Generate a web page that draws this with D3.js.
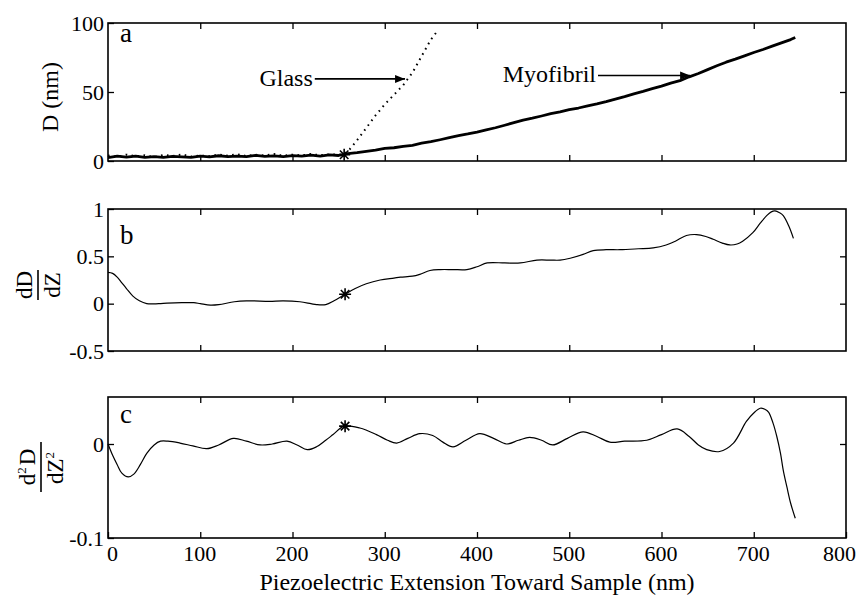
<!DOCTYPE html>
<html lang="en">
<head>
<meta charset="utf-8">
<title>afm derivative</title>
<script src="https://cdn.jsdelivr.net/npm/d3@7"></script>
<style>
body { margin:0; background:#fff; }
text { font-family:"Liberation Serif","Times New Roman",serif; fill:#000; }
.tick line { stroke:#000; stroke-width:1.3; }
</style>
</head>
<body>
<script>
// ---- data ----
var xTicks = [0,100,200,300,400,500,600,700,800];

// panel a : D (nm)
var myofibril = [[0,2.5],[10,3.5],[20,2.8],[30,3.6],[40,2.6],[50,3.2],[60,2.7],[70,3.4],[80,3.0],[90,2.6],
  [100,3.5],[110,3.0],[120,3.8],[130,3.1],[140,3.6],[150,3.2],[160,4.0],[170,3.3],[180,3.7],[190,3.2],
  [200,3.9],[210,3.5],[220,4.2],[230,3.6],[240,4.4],[250,4.0],[260,5.4],[270,6.0],[280,6.9],[290,7.8],
  [300,9.1],[310,9.6],[320,10.6],[330,11.4],[340,12.9],[350,14.0],[360,15.4],[370,16.9],[380,18.4],[390,19.6],
  [400,21.0],[410,22.6],[420,24.1],[430,25.9],[440,27.8],[450,29.6],[460,31.0],[470,32.6],[480,34.3],[490,35.6],
  [500,37.2],[510,38.4],[520,40.0],[530,41.4],[540,43.0],[550,44.8],[560,46.6],[570,48.6],[580,50.4],[590,52.4],
  [600,54.2],[610,56.4],[620,58.2],[630,61.0],[640,63.4],[650,66.2],[660,69.0],[670,71.6],[680,73.8],[690,76.2],
  [700,78.6],[710,80.8],[720,83.2],[730,85.6],[740,88.0],[745,89.5]];
var glass = [[0,4.0],[10,3.0],[20,4.6],[30,3.4],[40,4.2],[50,2.8],[60,4.4],[70,3.6],[80,4.8],[90,3.2],
  [100,4.0],[110,3.5],[120,4.6],[130,3.8],[140,4.9],[150,3.6],[160,4.5],[170,4.0],[180,5.0],[190,3.8],
  [200,4.6],[210,4.1],[220,5.0],[230,4.2],[240,4.8],[250,4.5],[256,5.0],[262,8.5],[270,15],[280,24],
  [290,33],[300,41],[310,48],[320,55],[330,64],[340,76],[350,88],[358,95]];

// panel b : dD/dZ
var slope = [[0,0.33],[5,0.32],[10,0.28],[15,0.22],[20,0.16],[27,0.08],[34,0.03],[42,0.0],[55,0.0],[64,0.005],
  [80,0.01],[93,0.01],[100,0.0],[111,-0.015],[120,-0.01],[137,0.02],[150,0.03],[158,0.03],[175,0.025],[190,0.03],
  [208,0.02],[220,0.0],[226,-0.01],[236,-0.01],[245,0.03],[257,0.1],[268,0.16],[280,0.21],[295,0.25],[310,0.27],
  [317,0.28],[330,0.29],[338,0.31],[349,0.35],[360,0.36],[374,0.36],[389,0.36],[400,0.39],[411,0.43],[430,0.43],
  [447,0.43],[465,0.46],[480,0.46],[490,0.46],[501,0.48],[515,0.52],[526,0.56],[540,0.57],[555,0.57],[575,0.58],
  [591,0.59],[605,0.62],[615,0.66],[627,0.72],[638,0.73],[648,0.71],[656,0.68],[666,0.64],[674,0.62],[682,0.63],
  [688,0.66],[699,0.75],[707,0.85],[714,0.93],[719,0.97],[723,0.98],[728,0.96],[732,0.93],[738,0.82],[743,0.69]];

// panel c : d2D/dZ2
var curv = [[0,0.0],[5,-0.012],[10,-0.022],[15,-0.031],[22,-0.035],[28,-0.032],[35,-0.022],[42,-0.01],[50,-0.001],[57,0.003],
  [65,0.003],[78,0.001],[92,-0.002],[107,-0.005],[120,-0.001],[136,0.006],[150,0.003],[165,-0.001],[178,0.0],[194,0.003],
  [205,-0.001],[216,-0.006],[226,-0.003],[236,0.004],[244,0.01],[256,0.019],[273,0.017],[291,0.01],[303,0.004],[313,0.001],
  [325,0.006],[338,0.011],[352,0.009],[363,0.002],[374,-0.003],[388,0.004],[403,0.011],[418,0.006],[432,0.0],[445,0.004],
  [457,0.007],[470,0.004],[482,-0.001],[498,0.006],[515,0.013],[530,0.008],[544,0.002],[560,0.003],[584,0.004],[600,0.01],
  [617,0.016],[630,0.008],[640,-0.001],[649,-0.006],[663,-0.008],[678,0.001],[692,0.024],[700,0.033],[707,0.038],[712,0.037],
  [716,0.034],[721,0.022],[725,0.008],[729,-0.01],[732,-0.028],[736,-0.046],[740,-0.063],[745,-0.079]];

var stars = { a:[256,4.5], b:[257,0.1], c:[257,0.019] };
var notes = [ {text:"Glass", tx:222, tip:[322,59.5]}, {text:"Myofibril", tx:529, tip:[631,62]} ];

// ---- layout ----
var W = 861, H = 598;
var svg = d3.select("body").append("svg").attr("width",W).attr("height",H);

var x = d3.scaleLinear().domain([0,800]).range([108,846]);

var panels = [
  {id:"a", dom:[0,100], rng:[161,23], ticks:[0,50,100], inner:[50], letterY:42, data:null},
  {id:"b", dom:[-0.5,1], rng:[351,209], ticks:[-0.5,0,0.5,1], inner:[0,0.5], letterY:244, data:slope},
  {id:"c", dom:[-0.1,0.05], rng:[538,397], ticks:[-0.1,0], inner:[0], letterY:423, data:curv}
];

svg.append("defs").append("marker")
  .attr("id","arr").attr("viewBox","0 0 10 10").attr("refX",10).attr("refY",5)
  .attr("markerWidth",12).attr("markerHeight",10).attr("markerUnits","userSpaceOnUse")
  .attr("orient","auto")
  .append("path").attr("d","M0,1 L10,5 L0,9 Z").attr("fill","#000");

function asterisk(g, cx, cy, r){
  var p = "";
  for (var k=0;k<4;k++){
    var a = k*Math.PI/4;
    p += "M"+(cx-r*Math.cos(a))+","+(cy-r*Math.sin(a))+"L"+(cx+r*Math.cos(a))+","+(cy+r*Math.sin(a));
  }
  g.append("path").attr("d",p).attr("stroke","#000").attr("stroke-width",1.6);
}

function fmt(d){ return String(d); }

panels.forEach(function(p){
  var y = d3.scaleLinear().domain(p.dom).range(p.rng);
  var g = svg.append("g");

  // inward ticks on all sides
  var bottom = g.append("g").attr("transform","translate(0,"+p.rng[0]+")")
    .call(d3.axisBottom(x).tickValues(p.id=="c" ? xTicks : xTicks.slice(1,-1)).tickSize(-6).tickPadding(12)
      .tickFormat(p.id=="c" ? fmt : ""));
  g.append("g").attr("transform","translate(0,"+p.rng[1]+")")
    .call(d3.axisTop(x).tickValues(xTicks.slice(1,-1)).tickSize(-6).tickFormat(""));
  var left = g.append("g").attr("transform","translate("+x.range()[0]+",0)")
    .call(d3.axisLeft(y).tickValues(p.ticks).tickSize(-6).tickPadding(4).tickFormat(fmt));
  g.append("g").attr("transform","translate("+x.range()[1]+",0)")
    .call(d3.axisRight(y).tickValues(p.inner).tickSize(-6).tickFormat(""));
  g.selectAll(".domain").remove();
  g.selectAll(".tick text").attr("font-size",22).attr("fill","#000")
    .style("font-family",'"Liberation Serif","Times New Roman",serif');
  bottom.selectAll(".tick text").attr("dy","0.5em")
    .attr("dx", function(d){ return d==0 ? 4 : (d==800 ? -7 : -1); });

  g.append("rect").attr("x",x.range()[0]).attr("y",p.rng[1])
    .attr("width",x.range()[1]-x.range()[0]).attr("height",p.rng[0]-p.rng[1])
    .attr("fill","none").attr("stroke","#000").attr("stroke-width",1.6);

  g.append("text").attr("x",120).attr("y",p.letterY).attr("font-size",27).text(p.id);

  var line = d3.line().x(function(d){return x(d[0]);}).y(function(d){return y(d[1]);});

  if (p.id=="a"){
    g.append("path").datum(glass).attr("d",line)
      .attr("fill","none").attr("stroke","#000").attr("stroke-width",2)
      .attr("stroke-dasharray","1.6,4.4");
    g.append("path").datum(myofibril).attr("d",line)
      .attr("fill","none").attr("stroke","#000").attr("stroke-width",2.8).attr("stroke-linejoin","round");
    notes.forEach(function(n){
      var yy = y(n.tip[1]);
      g.append("text").attr("x",x(n.tx)).attr("y",yy+7).attr("text-anchor","end")
        .attr("font-size",24).text(n.text);
      g.append("line").attr("x1",x(n.tx)+2).attr("x2",x(n.tip[0])).attr("y1",yy).attr("y2",yy)
        .attr("stroke","#000").attr("stroke-width",1.6).attr("marker-end","url(#arr)");
    });
  } else {
    g.append("path").datum(p.data).attr("d",line.curve(d3.curveCatmullRom))
      .attr("fill","none").attr("stroke","#000").attr("stroke-width",1.2);
  }
  var s = stars[p.id];
  asterisk(g, x(s[0]), y(s[1]), 6);
});

// axis titles
svg.append("text").attr("x",x(400)).attr("y",590).attr("text-anchor","middle")
  .attr("font-size",24).text("Piezoelectric Extension Toward Sample (nm)");

svg.append("text").attr("transform","translate(58,97) rotate(-90)").attr("text-anchor","middle")
  .attr("font-size",24).text("D (nm)");

// stacked fraction labels, rotated
function frac(cx, cy, topParts, botParts, len){
  var g = svg.append("g").attr("transform","translate("+cx+","+cy+") rotate(-90)");
  function put(parts, yb){
    var t = g.append("text").attr("x",0).attr("y",yb).attr("text-anchor","middle").attr("font-size",23);
    parts.forEach(function(q){
      if (q.sup) t.append("tspan").attr("dy",-9).attr("font-size",13).text(q.t)
        .clone(true).attr("dy",9).attr("font-size",23).text("\u200A");
      else t.append("tspan").text(q.t);
    });
  }
  put(topParts, -6);
  g.append("line").attr("x1",-len/2).attr("x2",len/2).attr("y1",0).attr("y2",0)
    .attr("stroke","#000").attr("stroke-width",1.6);
  put(botParts, 22);
}
frac(38, 285, [{t:"dD"}], [{t:"dZ"}], 30);
frac(41, 467, [{t:"d"},{t:"2",sup:true},{t:"D"}], [{t:"dZ"},{t:"2",sup:true}], 50);
</script>
</body>
</html>
